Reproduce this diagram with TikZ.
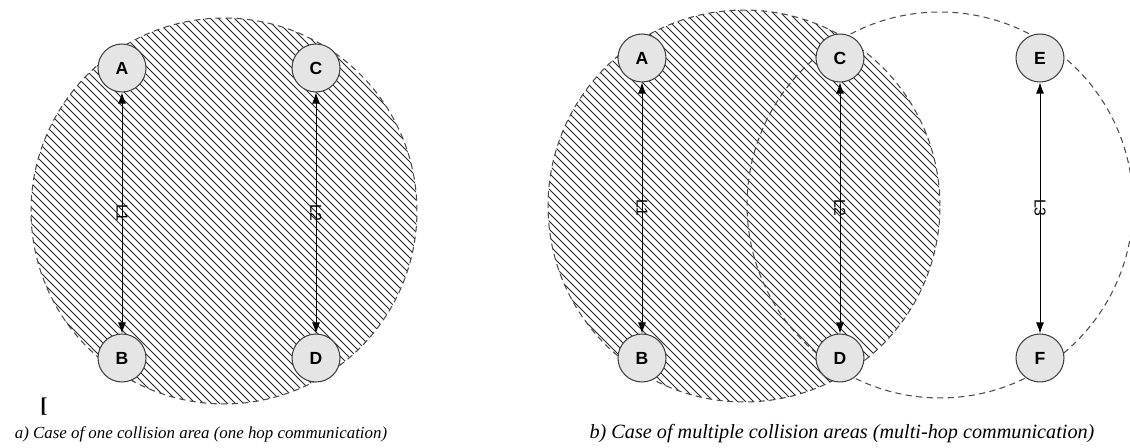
\documentclass[tikz,border=0pt]{standalone}
\usepackage{fontspec}
\setmainfont{Liberation Serif}
\setsansfont{Liberation Sans}
\usetikzlibrary{arrows.meta}

\begin{document}
\begin{tikzpicture}[x=0.02cm, y=-0.02cm,
    station/.style={circle, draw=black!75, fill=black!10, line width=0.6pt,
        minimum size=0.96cm, inner sep=0pt, font=\sffamily\bfseries\fontsize{10}{12}\selectfont},
    reach/.style={dash pattern=on 3.5pt off 2.5pt, draw=black!70, line width=0.6pt},
    hatchline/.style={line width=0.45pt, black!85},
    link/.style={{Latex[length=2.2mm,width=1.6mm]}-{Latex[length=2.2mm,width=1.6mm]}, line width=0.5pt},
    linklabel/.style={midway, sloped, font=\sffamily\fontsize{9}{10}\selectfont, inner sep=1pt},
    captext/.style={font=\itshape\fontsize{9.6}{12}\selectfont}]
    \useasboundingbox (0,0) rectangle (1130,448);

    % One collision area
    \begin{scope}
        \clip (224,211) circle (3.86cm);
        \foreach \c in {-400,-392,...,424} {
            \draw[hatchline] (\c,0) -- ++(450,450);
        }
    \end{scope}
    \draw[reach] (224,211) circle (3.86cm);
    \node[station] (la) at (122,68) {A};
    \node[station] (lc) at (316,68) {C};
    \node[station] (lb) at (122,358) {B};
    \node[station] (ld) at (316,358) {D};
    \draw[link] (la) -- node[linklabel] {L1} (lb);
    \draw[link] (lc) -- node[linklabel] {L2} (ld);
    \node[font=\bfseries\fontsize{12}{14}\selectfont] (bracket) at (44,407) {[};
    \node[captext] (capa) at (201,434) {a) Case of one collision area (one hop communication)};

    % Multiple collision areas
    \begin{scope}
        \clip (744,206) circle (3.92cm);
        \foreach \c in {136,144,...,944} {
            \draw[hatchline] (\c,0) -- ++(450,450);
        }
    \end{scope}
    \draw[reach] (744,206) circle (3.92cm);
    \draw[reach] (940,205) circle (3.86cm);
    \node[station] (ra) at (642,58) {A};
    \node[station] (rc) at (840,58) {C};
    \node[station] (re) at (1040,58) {E};
    \node[station] (rb) at (642,358) {B};
    \node[station] (rd) at (840,358) {D};
    \node[station] (rf) at (1040,358) {F};
    \draw[link] (ra) -- node[linklabel] {L1} (rb);
    \draw[link] (rc) -- node[linklabel] {L2} (rd);
    \draw[link] (re) -- node[linklabel] {L3} (rf);
    \node[captext, font=\itshape\fontsize{11.5}{14}\selectfont] (capb) at (842,434) {b) Case of multiple collision areas (multi-hop communication)};
\end{tikzpicture}
\end{document}
